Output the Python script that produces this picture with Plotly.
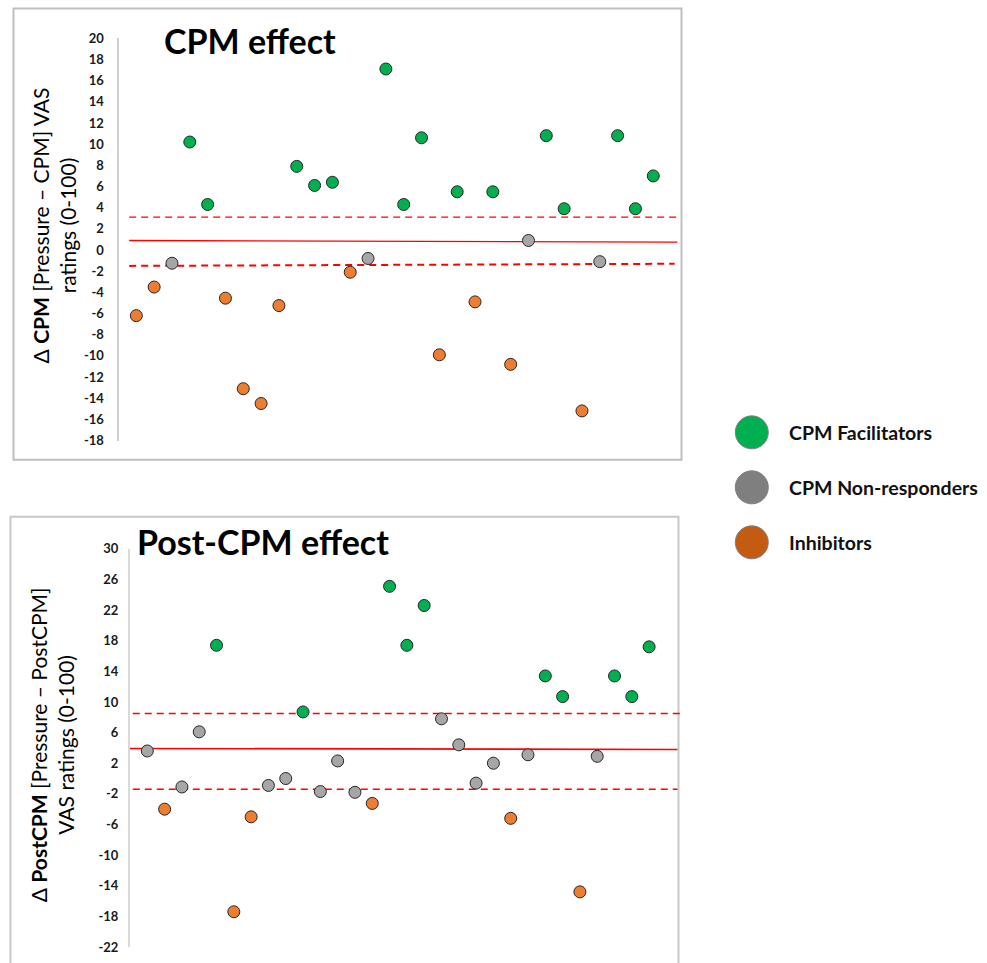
import plotly.graph_objects as go

W, H = 987, 963
# observed vertical mapping of the photographed page: y_out = SCALE_Y * y_fig + OFF_Y
OFF_Y = 8.0
SCALE_Y = 0.9837

# ---------------- data ----------------
cpm_values = [-6.2, -3.5, -1.25, 10.2, 4.3, -4.55, -13.1, -14.5, -5.25, 7.9,
              6.1, 6.4, -2.1, -0.8, 17.1, 4.3, 10.6, -9.9, 5.5, -4.9,
              5.5, -10.8, 0.9, 10.8, 3.9, -15.2, -1.1, 10.8, 3.9, 7.0]
cpm_groups = ["I", "I", "N", "F", "F", "I", "I", "I", "I", "F",
              "F", "F", "I", "N", "F", "F", "F", "I", "F", "I",
              "F", "I", "N", "F", "F", "I", "N", "F", "F", "F"]

post_values = [3.6, -4.0, -1.1, 6.1, 17.4, -17.4, -5.0, -0.9, 0.0, 8.7,
               -1.7, 2.3, -1.8, -3.25, 25.1, 17.4, 22.6, 7.8, 4.4, -0.6,
               2.0, -5.2, 3.1, 13.4, 10.7, -14.8, 2.9, 13.4, 10.7, 17.2]
post_groups = ["N", "I", "N", "N", "F", "I", "I", "N", "N", "F",
               "N", "N", "N", "I", "F", "F", "F", "N", "N", "N",
               "N", "I", "N", "F", "F", "I", "N", "F", "F", "F"]

# reference lines (start value, end value)
cpm_mean = [0.9, 0.75]
cpm_upper = [3.1, 3.1]
cpm_lower = [-1.5, -1.3]
post_mean = [3.93, 3.8]
post_upper = [8.5, 8.5]
post_lower = [-1.4, -1.4]

cpm_ticks = list(range(-18, 21, 2))
post_ticks = list(range(-22, 31, 4))

group_names = {"F": "CPM Facilitators", "N": "CPM Non-responders", "I": "Inhibitors"}
legend_order = ["F", "N", "I"]
point_colors = {"F": "#00b050", "N": "#a6a6a6", "I": "#ed7d31"}
legend_colors = {"F": "#00b050", "N": "#7f7f7f", "I": "#c55a11"}

FONT = "Lato"

def px_x(p):
    return p / W

def px_y(p):
    return 1 - ((p - OFF_Y) / SCALE_Y) / H

fig = go.Figure()

# ---------- points ----------
def add_points(values, groups, xa, ya):
    for g in legend_order:
        xs = [i + 1 for i, gg in enumerate(groups) if gg == g]
        ys = [v for v, gg in zip(values, groups) if gg == g]
        fig.add_trace(go.Scatter(
            x=xs, y=ys, mode="markers", xaxis=xa, yaxis=ya, showlegend=False,
            marker=dict(size=12, color=point_colors[g],
                        line=dict(color="#262626", width=1)),
            name=group_names[g]))

def add_line(xs, ys, xa, ya, dash, width):
    fig.add_trace(go.Scatter(
        x=xs, y=ys, mode="lines", xaxis=xa, yaxis=ya, showlegend=False,
        line=dict(color="#ff0000", width=width, dash=dash), hoverinfo="skip"))

# top panel lines
add_line([0.6, 31.35], cpm_mean, "x", "y", "solid", 1.3)
add_line([0.6, 31.35], cpm_upper, "x", "y", "7px,5px", 1.3)
add_line([0.6, 31.2], cpm_lower, "x", "y", "7px,5px", 2)
# bottom panel lines
add_line([0.0, 31.64], post_mean, "x2", "y2", "solid", 1.6)
add_line([0.16, 31.87], post_upper, "x2", "y2", "7px,5px", 1.6)
add_line([0.16, 31.64], post_lower, "x2", "y2", "7px,5px", 1.6)

add_points(cpm_values, cpm_groups, "x", "y")
add_points(post_values, post_groups, "x2", "y2")

# ---------- legend (custom) ----------
leg_y = list(range(len(legend_order)))[::-1]
fig.add_trace(go.Scatter(
    x=[0] * len(legend_order), y=leg_y,
    mode="markers", xaxis="x3", yaxis="y3", showlegend=False,
    marker=dict(size=33, color=[legend_colors[g] for g in legend_order],
                line=dict(color="#7f7f7f", width=1)),
    hoverinfo="skip"))
for g, yy in zip(legend_order, leg_y):
    fig.add_annotation(text="<b>" + group_names[g] + "</b>", xref="x3", yref="y3",
                       x=1.12, y=yy, xanchor="left", yanchor="middle",
                       showarrow=False,
                       font=dict(family=FONT, size=19.5, color="#111111"))

axis_common = dict(showgrid=False, zeroline=False)

fig.update_layout(
    width=W, height=H,
    margin=dict(l=0, r=0, t=0, b=0),
    paper_bgcolor="white", plot_bgcolor="rgba(0,0,0,0)",
    font=dict(family=FONT, color="#111111"),
    xaxis=dict(domain=[px_x(118.5), px_x(680)], range=[0, 31.5],
               showticklabels=False, showline=False, **axis_common),
    yaxis=dict(domain=[px_y(440.7), px_y(38.3)], range=[-18, 20],
               tickvals=cpm_ticks, ticktext=["<b>%d</b>" % t for t in cpm_ticks],
               tickfont=dict(family=FONT, size=13, color="#1a1a1a"),
               showline=True, linecolor="#d0d0d0", linewidth=2,
               ticks="outside", ticklen=10, tickcolor="rgba(0,0,0,0)",
               anchor="x", **axis_common),
    xaxis2=dict(domain=[px_x(130), px_x(682)], range=[0, 31.9],
                showticklabels=False, showline=False, anchor="y2", **axis_common),
    yaxis2=dict(domain=[px_y(947.3), px_y(549)], range=[-22, 30],
                tickvals=post_ticks, ticktext=["<b>%d</b>" % t for t in post_ticks],
                tickfont=dict(family=FONT, size=13, color="#1a1a1a"),
                showline=True, linecolor="#d9d9d9", linewidth=2,
                ticks="outside", ticklen=7, tickcolor="rgba(0,0,0,0)",
                anchor="x2", **axis_common),
    xaxis3=dict(domain=[px_x(720), px_x(987)], range=[-1, 7.4],
                visible=False, anchor="y3"),
    yaxis3=dict(domain=[px_y(570), px_y(405)], range=[-0.5, 2.5],
                visible=False, anchor="x3"),
)

# ---------- frames ----------
fig.add_shape(type="rect", xref="paper", yref="paper",
              x0=px_x(13.5), x1=px_x(681.5), y0=px_y(460), y1=0.9995,
              line=dict(color="#bfbfbf", width=2), layer="below")
fig.add_shape(type="rect", xref="paper", yref="paper",
              x0=px_x(10.5), x1=px_x(678.5), y0=-0.05, y1=px_y(517),
              line=dict(color="#c8c8c8", width=2), layer="below")

# ---------- titles ----------
fig.add_annotation(text="<b>CPM effect</b>", xref="paper", yref="paper",
                   x=px_x(162), y=px_y(41), xanchor="left", yanchor="middle",
                   showarrow=False, font=dict(family=FONT, size=34, color="#000000"))
fig.add_annotation(text="<b>Post-CPM effect</b>", xref="paper", yref="paper",
                   x=px_x(135), y=px_y(542), xanchor="left", yanchor="middle",
                   showarrow=False, font=dict(family=FONT, size=34, color="#000000"))

# ---------- y axis titles ----------
fig.add_annotation(text="Δ <b>CPM</b> [Pressure – CPM] VAS<br>ratings (0-100)",
                   xref="paper", yref="paper", x=px_x(53.5), y=px_y(226),
                   xanchor="center", yanchor="middle", textangle=-90,
                   showarrow=False, align="center",
                   font=dict(family=FONT, size=21, color="#000000"))
fig.add_annotation(text="Δ <b>PostCPM</b> [Pressure – PostCPM]<br>VAS ratings (0-100)",
                   xref="paper", yref="paper", x=px_x(51.5), y=px_y(745),
                   xanchor="center", yanchor="middle", textangle=-90,
                   showarrow=False, align="center",
                   font=dict(family=FONT, size=21, color="#000000"))

fig.write_html("out.html")
